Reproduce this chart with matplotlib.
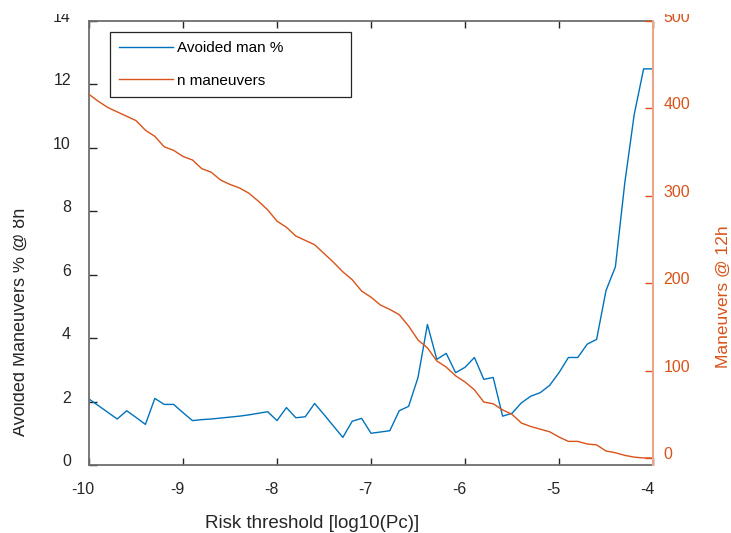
import numpy as np
import matplotlib
matplotlib.use("Agg")
import matplotlib.pyplot as plt
from matplotlib.patches import Rectangle
from matplotlib.transforms import ScaledTranslation

# risk threshold grid, log10(Pc)
thresholds = [-10.0, -9.9, -9.8, -9.7, -9.6, -9.5, -9.4, -9.3, -9.2, -9.1,
              -9.0, -8.9, -8.8, -8.7, -8.6, -8.5, -8.4, -8.3, -8.2, -8.1,
              -8.0, -7.9, -7.8, -7.7, -7.6, -7.5, -7.4, -7.3, -7.2, -7.1,
              -7.0, -6.9, -6.8, -6.7, -6.6, -6.5, -6.4, -6.3, -6.2, -6.1,
              -6.0, -5.9, -5.8, -5.7, -5.6, -5.5, -5.4, -5.3, -5.2, -5.1,
              -5.0, -4.9, -4.8, -4.7, -4.6, -4.5, -4.4, -4.3, -4.2, -4.1,
              -4.0]

# avoided maneuvers in percent (left axis)
avoided_pct = [2.08, 1.87, 1.66, 1.45, 1.71, 1.50, 1.28, 2.10, 1.91, 1.91,
               1.65, 1.40, 1.43, 1.45, 1.48, 1.51, 1.54, 1.58, 1.63, 1.68,
               1.40, 1.81, 1.49, 1.52, 1.94, 1.59, 1.23, 0.87, 1.38, 1.47,
               1.00, 1.04, 1.08, 1.71, 1.85, 2.76, 4.43, 3.33, 3.52, 2.91,
               3.08, 3.39, 2.70, 2.76, 1.54, 1.63, 1.96, 2.17, 2.28, 2.51,
               2.91, 3.39, 3.39, 3.81, 3.96, 5.50, 6.25, 8.90, 11.05, 12.49,
               12.49]

# number of maneuvers (right axis)
n_maneuvers = [416, 408, 401, 396, 391, 386, 375, 368, 356, 352,
               345, 341, 331, 327, 318, 313, 309, 303, 294, 284,
               271, 264, 254, 249, 244, 234, 224, 213, 204, 191,
               184, 175, 170, 164, 151, 135, 126, 111, 104, 94,
               87, 78, 64, 62, 55, 50, 40, 36, 33, 30,
               24, 19, 19, 16, 15, 8, 6, 3, 1, 0,
               0]

x_ticks = [-10, -9, -8, -7, -6, -5, -4]
left_ticks = [0, 2, 4, 6, 8, 10, 12, 14]
right_ticks = [0, 100, 200, 300, 400, 500]

BLUE = "#0072BD"
ORANGE = "#D95319"
DARK = "#262626"

plt.rcParams["font.family"] = ["Liberation Sans", "DejaVu Sans"]
plt.rcParams["axes.unicode_minus"] = False

fig = plt.figure(figsize=(7.31, 5.33), dpi=100)
ax = fig.add_axes([0.1218, 0.1276, 0.7715, 0.833])
ax2 = ax.twinx()

l1, = ax.plot(thresholds, avoided_pct, color=BLUE, lw=1.0, label="Avoided man %")
l2, = ax2.plot(thresholds, n_maneuvers, color=ORANGE, lw=1.0, label="n maneuvers")

ax.set_xlim(-10, -4)
ax.set_ylim(0, 14)
ax2.set_ylim(-8, 500)
ax.set_xticks(x_ticks)
ax.set_yticks(left_ticks)
ax2.set_yticks(right_ticks)

# spines: matlab-like box
for side in ["left", "top", "bottom"]:
    ax.spines[side].set_color("#6e6e6e")
    ax.spines[side].set_linewidth(1.3)
ax.spines["right"].set_visible(False)
for side in ["left", "top", "bottom"]:
    ax2.spines[side].set_visible(False)
ax2.spines["right"].set_color("#eda58a")
ax2.spines["right"].set_linewidth(1.5)

ax.tick_params(axis="x", direction="in", length=5, width=1, color=DARK,
               top=True, labelsize=11.5, labelcolor=DARK, pad=12)
ax.tick_params(axis="y", direction="in", length=5.5, width=1, color=DARK,
               left=True, right=False, labelsize=11.5, labelcolor=DARK, pad=13)
ax2.tick_params(axis="y", direction="in", length=5.5, width=1, colors=ORANGE,
                labelsize=11.5, pad=7.5)

# matlab draws tick labels slightly off the tick
up = ScaledTranslation(0, 5 / 100, fig.dpi_scale_trans)
left = ScaledTranslation(-6 / 100, 0, fig.dpi_scale_trans)
for lab in ax.get_yticklabels() + ax2.get_yticklabels():
    lab.set_transform(lab.get_transform() + up)
for lab in ax.get_xticklabels():
    lab.set_transform(lab.get_transform() + left)

ax.set_xlabel("Risk threshold [log10(Pc)]", fontsize=13.5, color=DARK, va="center")
ax.xaxis.set_label_coords(0.395, -0.132)
ax2.set_ylabel("Maneuvers @ 12h", fontsize=12.5, color=ORANGE, rotation=90, va="center")
ax2.yaxis.set_label_coords(1.124, 0.378)
fig.text(20 / 731, 1 - 322 / 533, "Avoided Maneuvers % @ 8h", rotation=90,
         fontsize=13, color=DARK, ha="center", va="center")

leg = ax2.legend(handles=[l1, l2], loc="upper left",
                 bbox_to_anchor=(0.0372, 0.975 - 0.2, 0.4273, 0.2), mode="expand",
                 borderaxespad=0, fontsize=11, handlelength=3.5, handletextpad=0.3,
                 labelspacing=1.2, borderpad=0.6, fancybox=False, framealpha=1,
                 edgecolor=DARK)
leg.get_frame().set_linewidth(0.9)

# the source picture is cropped at the top and left edges
fig.add_artist(Rectangle((0, 1 - 14 / 533), 1, 14 / 533, transform=fig.transFigure,
                         facecolor="white", edgecolor="none", zorder=10))
fig.add_artist(Rectangle((0, 0), 13 / 731, 1, transform=fig.transFigure,
                         facecolor="white", edgecolor="none", zorder=10))

fig.savefig("out.png", dpi=100)
